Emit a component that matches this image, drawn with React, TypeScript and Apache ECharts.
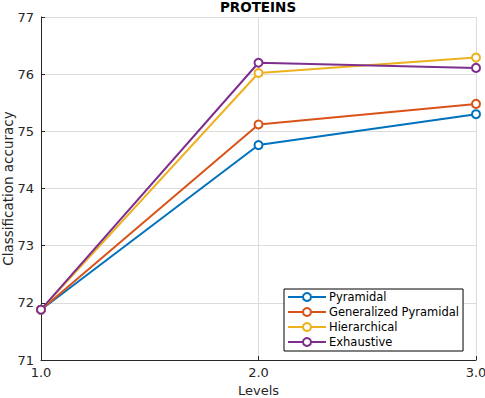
import React, { useEffect, useRef } from "react";
import * as echarts from "echarts";

const levels = [1.0, 2.0, 3.0];
const seriesNames = ["Pyramidal", "Generalized Pyramidal", "Hierarchical", "Exhaustive"];
const pyramidal = [71.88, 74.76, 75.3];
const generalized = [71.88, 75.12, 75.48];
const hierarchical = [71.88, 76.02, 76.29];
const exhaustive = [71.88, 76.2, 76.11];
const colors = ["#0072BD", "#D95319", "#EDB120", "#7E2F8E"];

export default function App() {
  const ref = useRef<HTMLDivElement>(null);
  useEffect(() => {
    if (!ref.current) return;
    const chart = echarts.init(ref.current, undefined, { renderer: "svg" });
    const all = [pyramidal, generalized, hierarchical, exhaustive];
    const font = "DejaVu Sans";
    chart.setOption({
      animation: false,
      title: {
        text: "PROTEINS",
        left: 258,
        textAlign: "center",
        top: 0,
        padding: 0,
        textStyle: { fontFamily: font, fontSize: 13.5, lineHeight: 14, fontWeight: "bold", color: "#000" },
      },
      grid: { left: 41, right: 9, top: 17, bottom: 38, containLabel: false, outerBoundsMode: "none" },
      legend: {
        orient: "vertical",
        left: 284,
        top: 289,
        backgroundColor: "#fff",
        borderColor: "#000",
        borderWidth: 1,
        borderRadius: 0,
        padding: [2, 4, 3, 3],
        itemGap: 3,
        itemWidth: 38,
        itemHeight: 10,
        textStyle: { fontFamily: font, fontSize: 11.5, color: "#000", padding: [0, 0, 0, -2] },
        data: seriesNames,
      },
      xAxis: {
        type: "value",
        min: 1,
        max: 3,
        interval: 1,
        name: "Levels",
        nameLocation: "middle",
        nameGap: 24,
        nameMoveOverlap: false,
        nameTextStyle: { fontFamily: font, fontSize: 13, color: "#262626" },
        axisLine: { show: true, lineStyle: { color: "#262626", width: 1 } },
        axisTick: { show: true, inside: true, length: 4, lineStyle: { color: "#262626" } },
        axisLabel: {
          fontFamily: font,
          fontSize: 13,
          color: "#262626",
          margin: 6,
          formatter: (v: number) => v.toFixed(1),
        },
        splitLine: { show: true, lineStyle: { color: "#dcdcdc", width: 1 } },
      },
      yAxis: {
        type: "value",
        min: 71,
        max: 77,
        interval: 1,
        name: "Classification accuracy",
        nameLocation: "middle",
        nameGap: 26,
        nameMoveOverlap: false,
        nameTextStyle: { fontFamily: font, fontSize: 13.5, color: "#262626" },
        axisLine: { show: true, lineStyle: { color: "#262626", width: 1 } },
        axisTick: { show: true, inside: true, length: 4, lineStyle: { color: "#262626" } },
        axisLabel: { fontFamily: font, fontSize: 13, color: "#262626", margin: 7 },
        splitLine: { show: true, lineStyle: { color: "#dcdcdc", width: 1 } },
      },
      series: seriesNames.map((name, i) => ({
        name,
        type: "line",
        data: levels.map((x, j) => [x, all[i][j]]),
        symbol: "emptyCircle",
        symbolSize: 8,
        color: colors[i],
        lineStyle: { width: 2, color: colors[i] },
        itemStyle: { color: colors[i], borderWidth: 2, borderColor: colors[i] },
      })),
    });
    return () => chart.dispose();
  }, []);
  return <div ref={ref} style={{ width: 485, height: 398, position: "absolute", left: 0, top: 0 }} />;
}
